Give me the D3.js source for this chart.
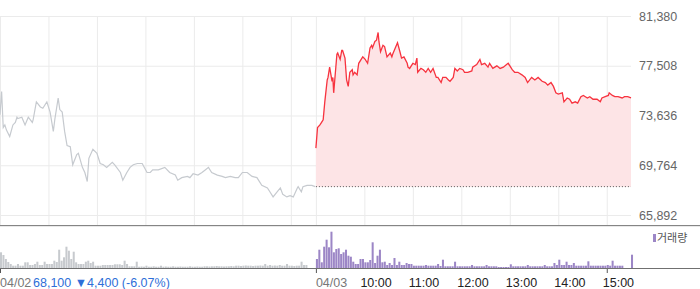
<!DOCTYPE html>
<html>
<head>
<meta charset="utf-8">
<script src="https://cdn.jsdelivr.net/npm/d3@7"></script>
<style>
    body { margin: 0; background: #fff; }
    #chart { width: 700px; height: 289px; }
    text { font-family: "Liberation Sans", Arial, sans-serif; }
</style>
</head>
<body>
<div id="chart"></div>
<script>
// price axis ticks (won)
const priceTicks = [65892, 69764, 73636, 77508, 81380];
const prevClose = 68100;

// previous day (04/02) intraday price
const prevTimes = [
    "09:00", "09:02", "09:04", "09:06", "09:08", "09:12", "09:16", "09:19", "09:21", "09:22",
    "09:27", "09:31", "09:35", "09:40", "09:41", "09:45", "09:50", "09:53", "09:58",
    "10:02", "10:06", "10:08", "10:12", "10:14", "10:17", "10:20", "10:23", "10:27", "10:30",
    "10:35", "10:37", "10:42", "10:45", "10:48", "10:50", "10:55",
    "11:00", "11:04", "11:08", "11:12", "11:19", "11:22", "11:29", "11:32", "11:37", "11:41", "11:45", "11:50", "11:56",
    "12:02", "12:06", "12:09", "12:16", "12:24", "12:30", "12:37", "12:40", "12:45", "12:52", "12:55", "12:59",
    "13:05", "13:10", "13:14", "13:18", "13:22", "13:29", "13:35", "13:39", "13:45", "13:51", "13:55",
    "14:00", "14:06", "14:12", "14:18", "14:24", "14:31", "14:34", "14:38", "14:43", "14:47", "14:50", "14:55", "14:59",
    "15:03", "15:08", "15:09", "15:13", "15:15", "15:20", "15:26", "15:30"
];
const prevPrices = [
    73700, 75500, 72700, 72900, 72500, 72000, 72900, 73100, 73500, 73400,
    73500, 72900, 73500, 73100, 73300, 74700, 74300, 74200, 74700,
    73900, 72400, 73400, 75000, 74100, 73900, 72400, 71300, 71200, 69800,
    70600, 70700, 69600, 69200, 68500, 70300, 71000,
    70700, 69900, 69800, 69600, 70000, 69800, 69200, 68600, 69200, 69600, 69800, 69900, 69900,
    69200, 69200, 69400, 69400, 69600, 69200, 69000, 68600, 68800, 68900, 68800, 69100,
    69000, 69200, 69400, 69600, 69200, 69000, 68900, 68800, 68900, 68800, 68800,
    69200, 69200, 68900, 68800, 68200, 68000, 67700, 67300, 67700, 68000, 67500, 67300, 67400,
    67300, 68000, 68100, 67700, 68100, 68200, 68200, 68100
];

// today (04/03) intraday price
const todayTimes = [
    "09:00", "09:02", "09:05", "09:07", "09:09", "09:11", "09:14", "09:15", "09:17", "09:20",
    "09:21", "09:22", "09:26", "09:27", "09:30", "09:32", "09:33", "09:36", "09:38", "09:40",
    "09:42", "09:45", "09:46", "09:48", "09:51", "09:53", "09:57", "09:58",
    "10:01", "10:03", "10:04", "10:07", "10:09", "10:10", "10:13", "10:15", "10:17", "10:18",
    "10:20", "10:23", "10:25", "10:28", "10:32", "10:34", "10:35", "10:39", "10:41", "10:44",
    "10:46", "10:49", "10:53", "10:54", "10:56",
    "11:00", "11:03", "11:05", "11:06", "11:10", "11:13", "11:16", "11:19", "11:22", "11:25",
    "11:29", "11:31", "11:35", "11:37", "11:41", "11:44", "11:46", "11:50", "11:52", "11:55", "11:58",
    "12:02", "12:04", "12:08", "12:13", "12:14", "12:19", "12:23", "12:25", "12:29", "12:33",
    "12:35", "12:39", "12:44", "12:48", "12:52", "12:56", "12:58",
    "13:03", "13:06", "13:10", "13:15", "13:19", "13:22", "13:27", "13:31", "13:35", "13:40",
    "13:44", "13:47", "13:51", "13:54", "13:57",
    "14:00", "14:05", "14:07", "14:11", "14:14", "14:17", "14:21", "14:24", "14:28", "14:31",
    "14:36", "14:39", "14:43", "14:48", "14:52", "14:54", "14:58",
    "15:02", "15:03", "15:07", "15:10", "15:14", "15:19", "15:22", "15:26", "15:30"
];
const todayPrices = [
    71100, 72700, 72900, 73100, 73300, 74700, 76400, 76600, 77400, 76300,
    76600, 75400, 78400, 78500, 78000, 78700, 78700, 78100, 76400, 75900,
    77000, 77200, 76800, 77000, 76800, 77700, 78100, 78200,
    78000, 77800, 77700, 78900, 79100, 78900, 79400, 79500, 80100, 79400,
    78600, 79100, 79000, 78200, 78500, 78200, 78400, 79000, 79300, 78600,
    78100, 78200, 77700, 77400, 77300,
    77700, 77600, 78100, 77000, 77300, 77200, 77000, 77300, 77000, 77300,
    76600, 76600, 76200, 76600, 76600, 76400, 76300, 76600, 77300, 77100, 77300,
    77200, 77000, 77000, 77100, 77400, 77600, 78000, 77600, 77700, 77400,
    77700, 77300, 77500, 77300, 77400, 77600, 77700,
    77200, 77000, 77000, 76800, 76600, 76200, 76600, 76400, 76600, 76300,
    76200, 76000, 76200, 75900, 75400,
    75300, 75400, 74700, 75000, 74900, 74600, 74700, 74600, 75100, 75200,
    75000, 75100, 74900, 74900, 74700, 75000, 75100,
    75200, 75400, 75200, 75100, 75100, 75000, 75100, 75100, 75000
];

// volume per 3-minute bin (thousand shares), from 09:00
const prevVolume = [
    314, 260, 180, 120, 80, 46, 46, 80, 46, 46,
    114, 114, 60, 60, 80, 126, 60, 60, 126, 80,
    80, 80, 146, 120, 366, 146, 214, 426, 346, 180,
    326, 114, 80, 80, 80, 126, 146, 100, 126, 46,
    46, 46, 60, 60, 60, 60, 60, 74, 74, 74,
    60, 146, 80, 34, 34, 34, 126, 26, 30, 26,
    46, 26, 26, 34, 26, 26, 46, 26, 30, 26,
    26, 34, 26, 26, 30, 26, 26, 26, 34, 26,
    26, 30, 26, 26, 34, 34, 30, 34, 34, 40,
    34, 34, 30, 34, 34, 40, 34, 46, 46, 40,
    46, 50, 46, 46, 40, 46, 46, 50, 46, 80,
    46, 60, 46, 50, 46, 60, 46, 46, 80, 46,
    46, 40, 46, 46, 126, 60, 60, 0, 0, 0
];
const todayVolume = [
    180, 366, 114, 426, 566, 414, 726, 314, 380, 394,
    280, 314, 366, 246, 226, 126, 80, 80, 180, 180,
    114, 114, 160, 514, 100, 246, 366, 114, 126, 60,
    100, 60, 200, 60, 126, 60, 60, 100, 80, 80,
    46, 46, 46, 46, 46, 60, 46, 46, 46, 46,
    80, 40, 166, 34, 34, 34, 34, 126, 34, 34,
    34, 34, 34, 34, 60, 34, 34, 34, 34, 34,
    60, 34, 34, 34, 34, 20, 20, 20, 20, 20,
    74, 34, 34, 34, 34, 34, 34, 60, 34, 34,
    34, 34, 34, 34, 60, 34, 34, 34, 100, 60,
    166, 60, 60, 126, 60, 60, 100, 46, 46, 46,
    46, 46, 134, 46, 46, 46, 46, 46, 46, 46,
    60, 46, 146, 46, 46, 46, 46, 0, 0, 0,
    266
];

const dayLabels = ["04/02", "04/03"];
const hourLabels = ["10:00", "11:00", "12:00", "13:00", "14:00", "15:00"];
const closeText = "68,100";
const changeText = "\u25BC4,400";
const pctText = "(-6.07%)";
const legendText = "거래량";

class priceChart {
    constructor(parentElement) {
        this.parentElement = parentElement;
        this.dayOffset = 391; // minutes index where the 2nd day starts
        this.initVis();
    }

    initVis() {
        let vis = this;

        vis.width = 700;
        vis.height = 289;
        vis.plotRight = 631;
        vis.priceTop = 16;
        vis.priceBottom = 215;
        vis.panelBottom = 225;
        vis.volBase = 268;

        vis.svg = d3.select("#" + vis.parentElement).append("svg")
            .attr("width", vis.width)
            .attr("height", vis.height);

        // scales
        vis.xScale = d3.scaleLinear().domain([0, vis.dayOffset + 390]).range([0, vis.plotRight]);
        vis.yScale = d3.scaleLinear().domain([priceTicks[0], priceTicks[priceTicks.length - 1]])
            .range([vis.priceBottom, vis.priceTop]);
        vis.volScale = d3.scaleLinear().domain([0, 800]).range([vis.volBase, vis.volBase - 40]);

        vis.wrangleData();
    }

    toMinutes(t) {
        let p = t.split(":");
        return (+p[0] - 9) * 60 + (+p[1]);
    }

    wrangleData() {
        let vis = this;

        vis.prevData = prevTimes.map((t, i) => ({m: vis.toMinutes(t), price: prevPrices[i]}))
            .filter(d => d.price !== undefined);
        vis.todayData = todayTimes.map((t, i) => ({m: vis.dayOffset + vis.toMinutes(t), price: todayPrices[i]}))
            .filter(d => d.price !== undefined);

        vis.prevVol = prevVolume.map((v, i) => ({m: i * 3, v: v, day: 0}));
        vis.todayVol = todayVolume.map((v, i) => ({m: vis.dayOffset + i * 3, v: v, day: 1}));

        vis.updateVis();
    }

    updateVis() {
        let vis = this;

        // horizontal grid + price labels
        let yAxis = d3.axisRight(vis.yScale)
            .tickValues(priceTicks)
            .tickFormat(d3.format(","))
            .tickSize(-vis.plotRight)
            .tickPadding(8);
        let yg = vis.svg.append("g")
            .attr("class", "axis axis-y")
            .attr("transform", "translate(" + vis.plotRight + ",0)")
            .call(yAxis);
        yg.select(".domain").remove();
        yg.selectAll("line").attr("stroke", "#ebebeb");
        yg.selectAll("text").attr("fill", "#666").style("font-size", "12.5px");

        // vertical grid
        let gridMinutes = [];
        [0, vis.dayOffset].forEach(off => {
            for (let h = 0; h <= 6; h++) gridMinutes.push(off + h * 60);
        });
        let xg = vis.svg.append("g")
            .attr("class", "grid-x")
            .attr("transform", "translate(0," + vis.panelBottom + ")")
            .call(d3.axisBottom(vis.xScale).tickValues(gridMinutes)
                .tickSize(-(vis.panelBottom - vis.priceTop)).tickFormat(""));
        xg.select(".domain").remove();
        xg.selectAll("line").attr("stroke", "#ebebeb");

        // today area above prev close
        let area = d3.area()
            .x(d => vis.xScale(d.m))
            .y0(vis.yScale(prevClose))
            .y1(d => vis.yScale(d.price));
        vis.svg.append("path")
            .datum(vis.todayData)
            .attr("fill", "#fde4e6")
            .attr("d", area);

        // prev close dotted line
        vis.svg.append("line")
            .attr("x1", vis.xScale(vis.dayOffset))
            .attr("x2", vis.xScale(vis.dayOffset + 390))
            .attr("y1", vis.yScale(prevClose))
            .attr("y2", vis.yScale(prevClose))
            .attr("stroke", "#555")
            .attr("stroke-width", 1)
            .attr("stroke-dasharray", "1,2");

        let line = d3.line()
            .x(d => vis.xScale(d.m))
            .y(d => vis.yScale(d.price));

        vis.svg.append("path")
            .datum(vis.prevData)
            .attr("fill", "none")
            .attr("stroke", "#c6cacf")
            .attr("stroke-width", 1.2)
            .attr("d", line);

        vis.svg.append("path")
            .datum(vis.todayData)
            .attr("fill", "none")
            .attr("stroke", "#f7333f")
            .attr("stroke-width", 1.3)
            .attr("d", line);

        // panel separator
        vis.svg.append("line")
            .attr("x1", 0).attr("x2", vis.width)
            .attr("y1", vis.panelBottom + 0.5).attr("y2", vis.panelBottom + 0.5)
            .attr("stroke", "#858585");
        vis.svg.append("line")
            .attr("x1", 0).attr("x2", vis.width)
            .attr("y1", vis.panelBottom + 1.5).attr("y2", vis.panelBottom + 1.5)
            .attr("stroke", "#e9e9e9");

        // volume bars
        let barW = vis.xScale(3) - vis.xScale(0) - 0.4;
        vis.svg.selectAll(".vol")
            .data(vis.prevVol.concat(vis.todayVol).filter(d => d.v > 0))
            .enter()
            .append("rect")
            .attr("class", "vol")
            .attr("x", d => vis.xScale(d.m))
            .attr("width", barW)
            .attr("y", d => vis.volScale(d.v))
            .attr("height", d => vis.volBase - vis.volScale(d.v))
            .attr("fill", d => d.day === 0 ? "#c7cace" : "#9c86c6");

        // volume baseline + ticks
        vis.svg.append("line")
            .attr("x1", 0).attr("x2", vis.width)
            .attr("y1", vis.volBase + 0.5).attr("y2", vis.volBase + 0.5)
            .attr("stroke", "#707070");
        let tg = vis.svg.append("g")
            .attr("transform", "translate(0," + (vis.volBase + 1) + ")")
            .call(d3.axisBottom(vis.xScale)
                .tickValues([0, vis.dayOffset, vis.dayOffset + 360])
                .tickSize(4).tickFormat(""));
        tg.select(".domain").remove();
        tg.selectAll("line").attr("stroke", "#555");

        // legend
        vis.svg.append("rect")
            .attr("x", 653).attr("y", 234)
            .attr("width", 3).attr("height", 8)
            .attr("fill", "#9c86c6");
        vis.svg.append("text")
            .attr("x", 657).attr("y", 242)
            .style("font-family", "'Noto Sans CJK KR', sans-serif")
            .style("font-size", "11px")
            .attr("fill", "#555")
            .text(legendText);

        // bottom labels
        let labelY = 287;
        vis.svg.append("text")
            .attr("x", vis.xScale(0)).attr("y", labelY)
            .attr("fill", "#777").style("font-size", "12.5px")
            .text(dayLabels[0]);
        let info = vis.svg.append("text")
            .attr("x", 33).attr("y", labelY)
            .attr("fill", "#2f6fd8").style("font-size", "12.5px");
        info.append("tspan").text(closeText + " ");
        info.append("tspan").text(changeText + " ");
        info.append("tspan").text(pctText);

        vis.svg.append("text")
            .attr("x", vis.xScale(vis.dayOffset)).attr("y", labelY)
            .attr("fill", "#777").style("font-size", "12.5px")
            .text(dayLabels[1]);

        vis.svg.selectAll(".hour-label")
            .data(hourLabels)
            .enter()
            .append("text")
            .attr("class", "hour-label")
            .attr("x", (d, i) => vis.xScale(vis.dayOffset + (i + 1) * 60) - 4)
            .attr("y", labelY)
            .attr("fill", "#222")
            .style("font-size", "12.5px")
            .text(d => d);
    }
}

new priceChart("chart");
</script>
</body>
</html>
